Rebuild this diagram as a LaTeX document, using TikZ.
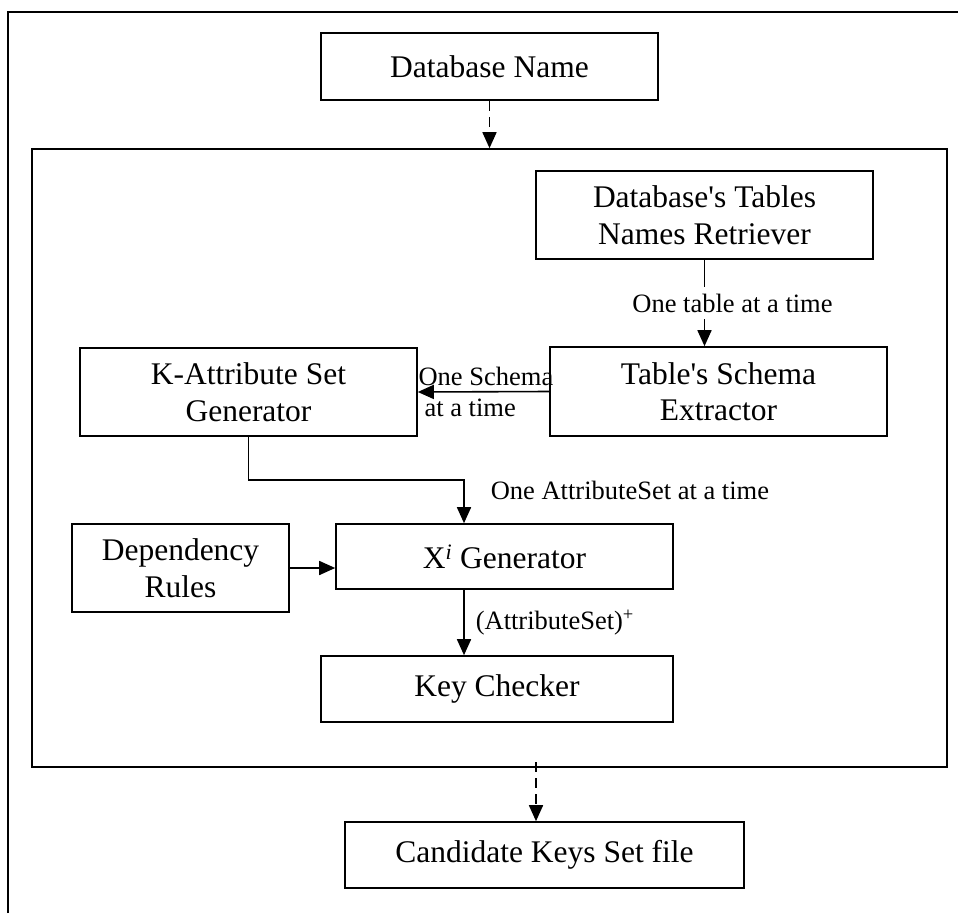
\documentclass[tikz,border=0pt]{standalone}
\usepackage{fontspec}
\setmainfont{Liberation Serif}[Ligatures=TeXOff]
\usetikzlibrary{arrows.meta}

\tikzset{
  blockbox/.style={draw, line width=1.6pt, align=center, inner sep=0pt, font=\fontsize{31.5}{36.5}\selectfont},
  flowlbl/.style={inner sep=2pt, font=\fontsize{26.5}{31}\selectfont},
  flowarrow/.style={line width=1.6pt, -{Triangle[length=16pt,width=14pt]}},
  feedarrow/.style={flowarrow, dash pattern=on 10pt off 6pt},
}

\begin{document}
\begin{tikzpicture}[x=1pt, y=-1pt]

        \useasboundingbox (0,0) rectangle (958,913);

        % Khung ngoài
        \draw[line width=1.6pt] (8,913) -- (8,12) -- (958,12);

        % Khối xử lý chính
        \node (engine) [draw, line width=1.6pt, inner sep=0pt, minimum width=915pt, minimum height=618pt] at (489.5,458) {};

        % Các khối
        \node (dbname) [blockbox, minimum width=337pt, minimum height=67pt] at (489.5,66.5) {Database Name};
        \node (dbtables) [blockbox, minimum width=337pt, minimum height=88pt] at (704.5,215) {Database's Tables\\Names Retriever};
        \node (schema) [blockbox, minimum width=337pt, minimum height=89pt] at (718.5,391.5) {Table's Schema\\Extractor};
        \node (kattr) [blockbox, minimum width=337pt, minimum height=88pt] at (248.5,392) {K-Attribute Set\\Generator};
        \node (deprules) [blockbox, minimum width=217pt, minimum height=88pt] at (180.5,568) {Dependency\\Rules};
        \node (xgen) [blockbox, minimum width=337pt, minimum height=65pt] at (504.5,556.5) {X\textsuperscript{\itshape i} Generator};
        \node (keychk) [blockbox, minimum width=352pt, minimum height=66pt] at (497,689) {Key Checker};
        \node (candidate) [blockbox, minimum width=399pt, minimum height=66pt] at (544.5,855) {Candidate Keys Set file};

        % Điểm gấp của đường nối
        \coordinate (bend) at (464,480);
        \coordinate (outport) at (536,762);

        % Mũi tên
        \draw[feedarrow] (dbname.south) -- (engine.north); % Tên CSDL vào khối chính
        \draw[flowarrow] (dbtables.south) -- node[flowlbl, fill=white, xshift=28pt, minimum height=32pt] {One table at a time} (dbtables.south |- schema.north);
        \draw[flowarrow] (schema.west) -- (kattr.east) node[flowlbl, anchor=west, align=left, inner sep=0pt] {One Schema\\\hspace*{6pt}at a time};
        \draw[flowarrow] (kattr.south) |- (bend) -- node[flowlbl, anchor=west, pos=0.23, xshift=24pt] {One AttributeSet at a time} (bend |- xgen.north);
        \draw[flowarrow] (deprules.east) -- (deprules.east -| xgen.west);
        \draw[flowarrow] (xgen.south -| bend) -- node[flowlbl, anchor=west, xshift=9pt] {(AttributeSet)\textsuperscript{+}} (keychk.north -| bend);
        \draw[feedarrow] (outport) -- (outport |- candidate.north); % Kết quả ra tệp

\end{tikzpicture}
\end{document}
